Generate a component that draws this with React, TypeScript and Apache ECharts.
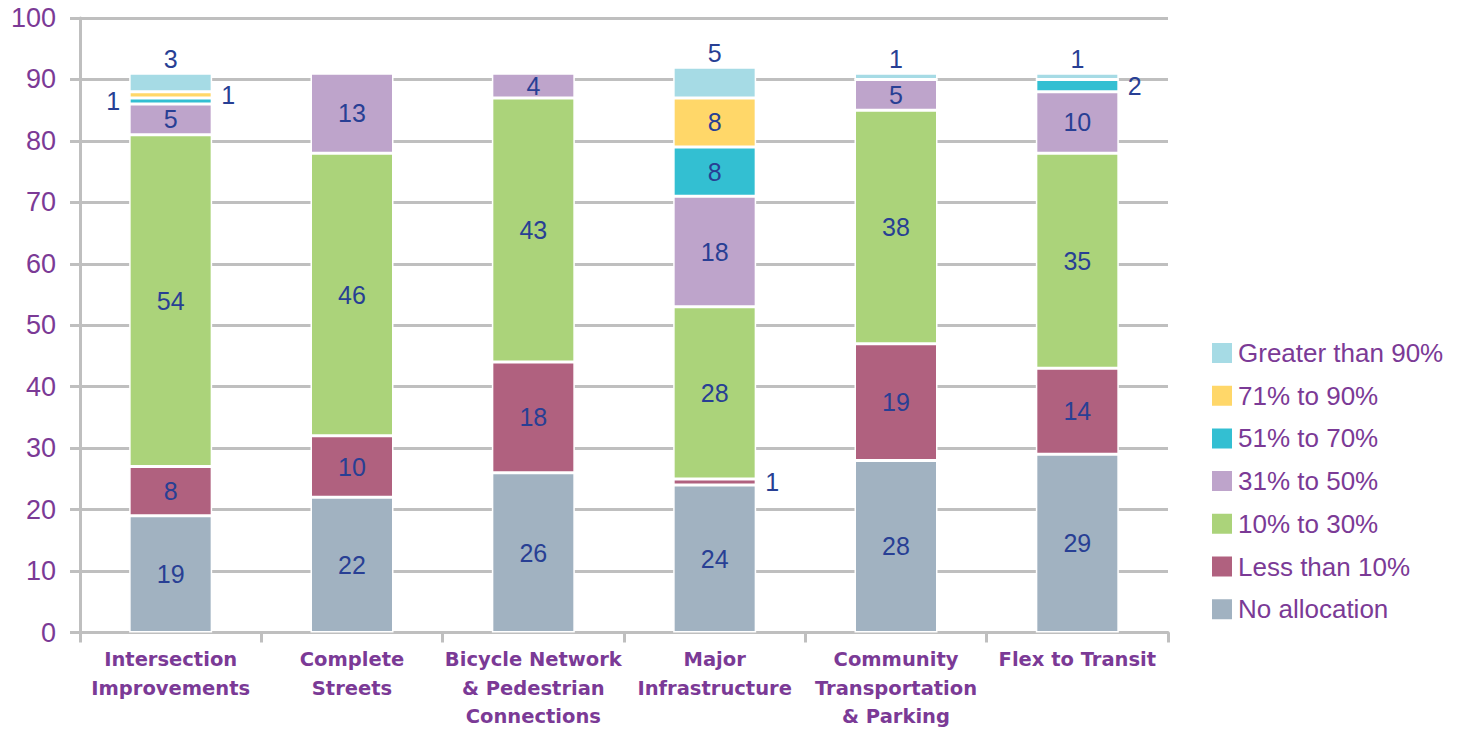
import React, { useEffect, useRef } from "react";
import * as echarts from "echarts";

const categories = [
  "Intersection\nImprovements",
  "Complete\nStreets",
  "Bicycle Network\n& Pedestrian\nConnections",
  "Major\nInfrastructure",
  "Community\nTransportation\n& Parking",
  "Flex to Transit",
];

const seriesNames = [
  "No allocation",
  "Less than 10%",
  "10% to 30%",
  "31% to 50%",
  "51% to 70%",
  "71% to 90%",
  "Greater than 90%",
];

const noAllocation = [19, 22, 26, 24, 28, 29];
const lessThan10 = [8, 10, 18, 1, 19, 14];
const pct10to30 = [54, 46, 43, 28, 38, 35];
const pct31to50 = [5, 13, 4, 18, 5, 10];
const pct51to70 = [1, 0, 0, 8, 0, 2];
const pct71to90 = [1, 0, 0, 8, 0, 0];
const greaterThan90 = [3, 0, 0, 5, 1, 1];

const yTicks = [0, 10, 20, 30, 40, 50, 60, 70, 80, 90, 100];

const colors = ["#A1B2C1", "#B0617F", "#ABD37A", "#BEA4CB", "#33BFD2", "#FFD769", "#A6DBE5"];

// label placement for small segments: [seriesIndex, categoryIndex, position]
const labelPlacement: [number, number, string][] = [
  [4, 0, "left"],
  [5, 0, "right"],
  [6, 0, "top"],
  [1, 3, "right"],
  [6, 3, "top"],
  [6, 4, "top"],
  [6, 5, "top"],
  [4, 5, "right"],
];

const LABEL_COLOR = "#283F94";
const PURPLE = "#7B3A96";

export default function App() {
  const ref = useRef<HTMLDivElement>(null);
  useEffect(() => {
    if (!ref.current) return;
    const chart = echarts.init(ref.current, undefined, { renderer: "svg" });
    const values = [noAllocation, lessThan10, pct10to30, pct31to50, pct51to70, pct71to90, greaterThan90];
    const series = values.map((vals, si) => ({
      name: seriesNames[si],
      type: "bar",
      stack: "total",
      barWidth: 83,
      itemStyle: { color: colors[si], borderColor: "#FFFFFF", borderWidth: 1.5 },
      data: vals.map((v, ci) => {
        const place = labelPlacement.find((p) => p[0] === si && p[1] === ci);
        return {
          value: v,
          label: {
            show: v > 0,
            position: place ? place[2] : "inside",
            distance: place ? (place[2] === "top" ? 2 : 9) : 5,
          },
        };
      }),
      label: {
        show: true,
        color: LABEL_COLOR,
        fontFamily: "Liberation Sans",
        fontSize: 25,
        formatter: (p: any) => String(p.value),
      },
    }));
    chart.setOption({
      animation: false,
      color: colors,
      grid: { left: 80, right: 298, top: 18, bottom: 95, containLabel: false },
      legend: {
        orient: "vertical",
        left: 1205,
        top: 335,
        data: [...seriesNames].reverse(),
        icon: "rect",
        itemWidth: 22,
        itemHeight: 22,
        itemGap: 16.7,
        textStyle: { color: PURPLE, fontFamily: "Liberation Sans", fontSize: 26, lineHeight: 25 },
      },
      xAxis: {
        type: "category",
        data: categories,
        axisLine: { show: true, lineStyle: { color: "#BFBFBF", width: 3 } },
        axisTick: { show: true, alignWithLabel: false, length: 10, lineStyle: { color: "#BFBFBF", width: 3 } },
        axisLabel: {
          color: PURPLE,
          fontFamily: "DejaVu Sans",
          fontWeight: "bold",
          fontSize: 19.5,
          lineHeight: 28.5,
          margin: 13,
          interval: 0,
        },
      },
      yAxis: {
        type: "value",
        min: 0,
        max: 100,
        interval: 10,
        axisLine: { show: true, lineStyle: { color: "#BFBFBF", width: 3 } },
        axisTick: { show: true, length: 10, lineStyle: { color: "#BFBFBF", width: 3 } },
        splitLine: { show: true, lineStyle: { color: "#BFBFBF", width: 3 } },
        axisLabel: {
          color: PURPLE,
          fontFamily: "Liberation Sans",
          fontSize: 27,
          margin: 24,
          formatter: (v: number) => (yTicks.includes(v) ? String(v) : ""),
        },
      },
      series,
    });
    return () => chart.dispose();
  }, []);
  return <div ref={ref} style={{ width: 1466, height: 731, position: "absolute", left: 0, top: 0 }} />;
}
